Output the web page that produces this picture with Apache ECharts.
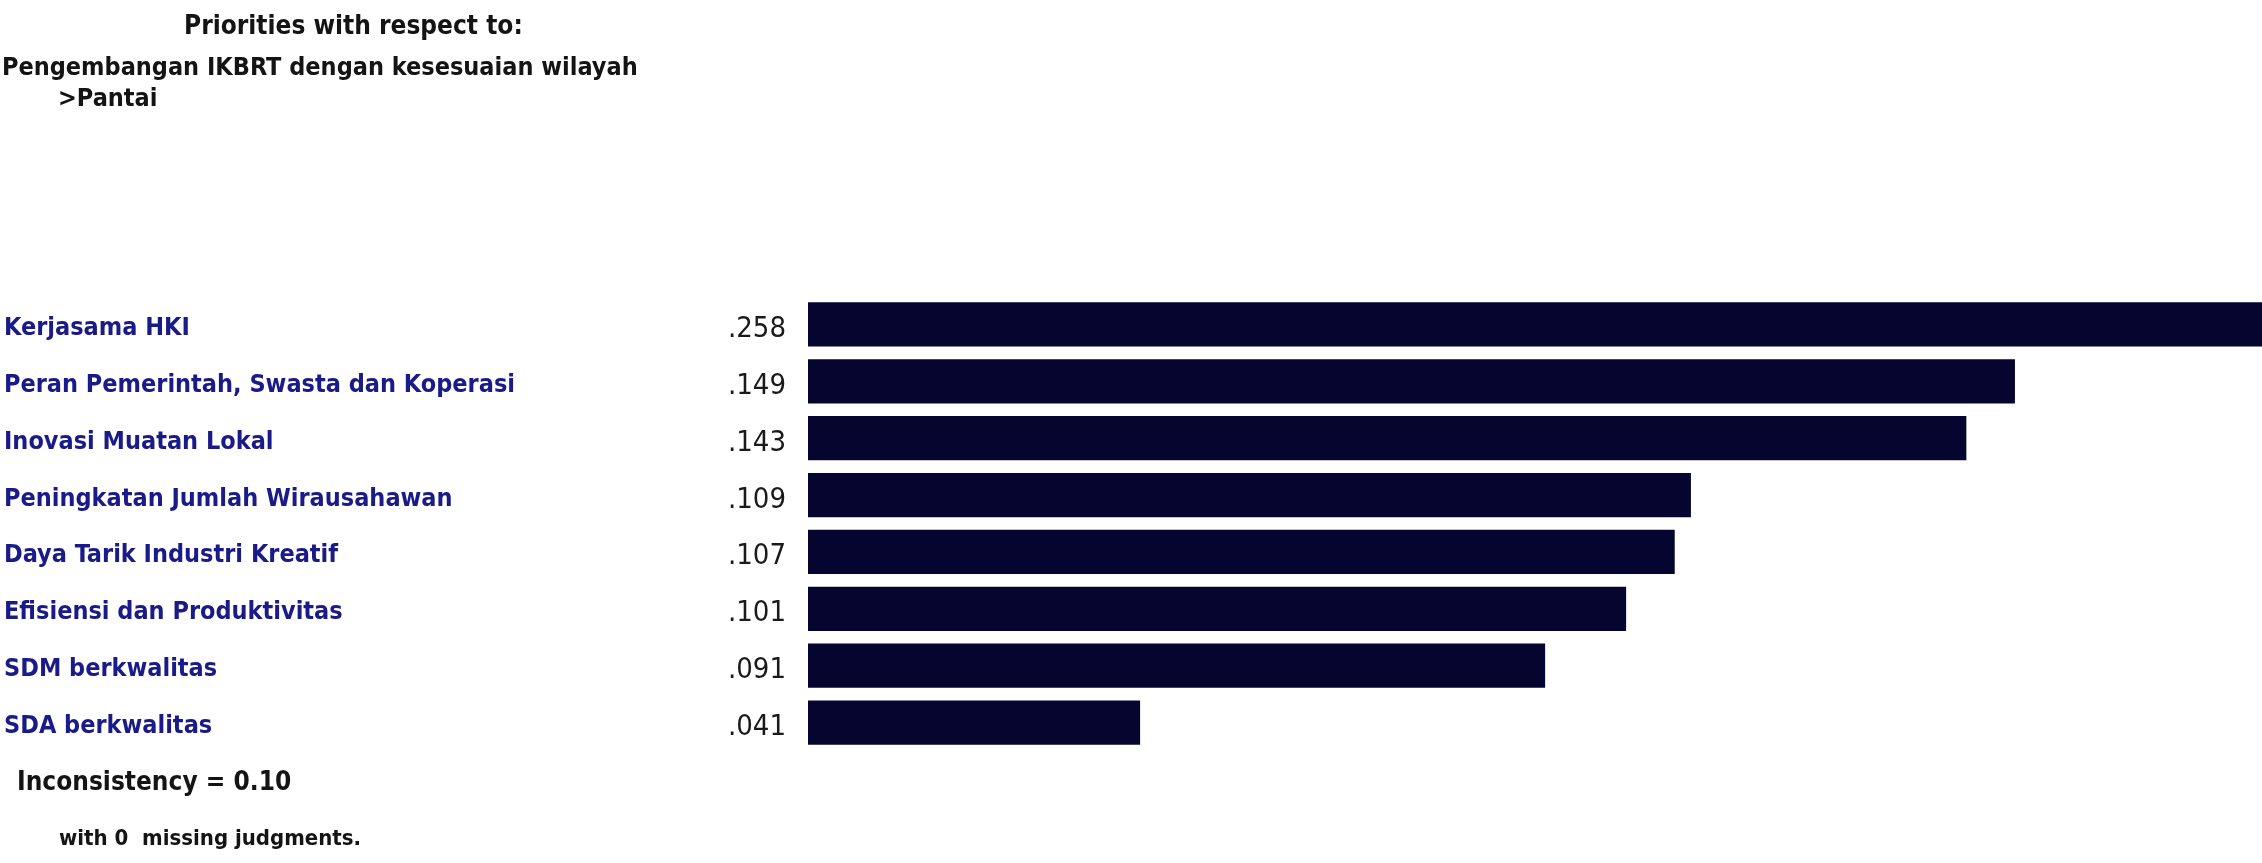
<!DOCTYPE html>
<html>
<head>
<meta charset="utf-8">
<script src="https://cdn.jsdelivr.net/npm/echarts@6/dist/echarts.min.js"></script>
<style>
html,body{margin:0;padding:0;background:#ffffff;}
#c{width:2262px;height:863px;}
</style>
</head>
<body>
<div id="c"></div>
<script>
const categories = [
  'Kerjasama HKI',
  'Peran Pemerintah, Swasta dan Koperasi',
  'Inovasi Muatan Lokal',
  'Peningkatan Jumlah Wirausahawan',
  'Daya Tarik Industri Kreatif',
  'Efisiensi dan Produktivitas',
  'SDM berkwalitas',
  'SDA berkwalitas'
];
const priorities = [0.258, 0.149, 0.143, 0.109, 0.107, 0.101, 0.091, 0.041];
const headerLines = [
  'Priorities with respect to:',
  'Pengembangan IKBRT dengan kesesuaian wilayah',
  '>Pantai'
];
const footerLines = [
  'Inconsistency = 0.10',
  'with 0  missing judgments.'
];

const FONT = "'Liberation Sans Narrow', 'DejaVu Sans Condensed', 'Liberation Sans', sans-serif";
const chart = echarts.init(document.getElementById('c'));

function txt(text, x, y, size) {
  return {
    type: 'text', left: x, top: y,
    style: {
      text: text, fill: '#141414', font: 'bold ' + size + 'px ' + FONT
    }
  };
}

chart.setOption({
  animation: false,
  backgroundColor: '#ffffff',
  grid: { left: 808, right: 0, top: 296, bottom: 112, containLabel: false },
  xAxis: { type: 'value', min: 0, max: 0.1795, show: false },
  yAxis: {
    type: 'category', data: categories, inverse: true,
    axisLine: { show: false }, axisTick: { show: false }, splitLine: { show: false },
    axisLabel: {
      align: 'left', margin: 804, color: '#1a1a88',
      fontSize: 25, fontWeight: 'bold', fontFamily: FONT,
      verticalAlign: 'top', lineHeight: 8
    }
  },
  series: [{
    type: 'bar', data: priorities, clip: true,
    barCategoryGap: '22%',
    itemStyle: { color: '#050530' },
    label: {
      show: true, position: 'left', distance: 22, offset: [0, 5],
      color: '#1a1a1a', fontSize: 29, fontFamily: FONT,
      formatter: p => p.value.toFixed(3).replace(/^0/, '')
    }
  }],
  graphic: [
    txt(headerLines[0], 184, 14, 26),
    txt(headerLines[1], 2, 56, 25),
    txt(headerLines[2], 58, 87, 25),
    txt(footerLines[0], 17, 770, 26),
    txt(footerLines[1], 59, 828, 22)
  ]
});
</script>
</body>
</html>
